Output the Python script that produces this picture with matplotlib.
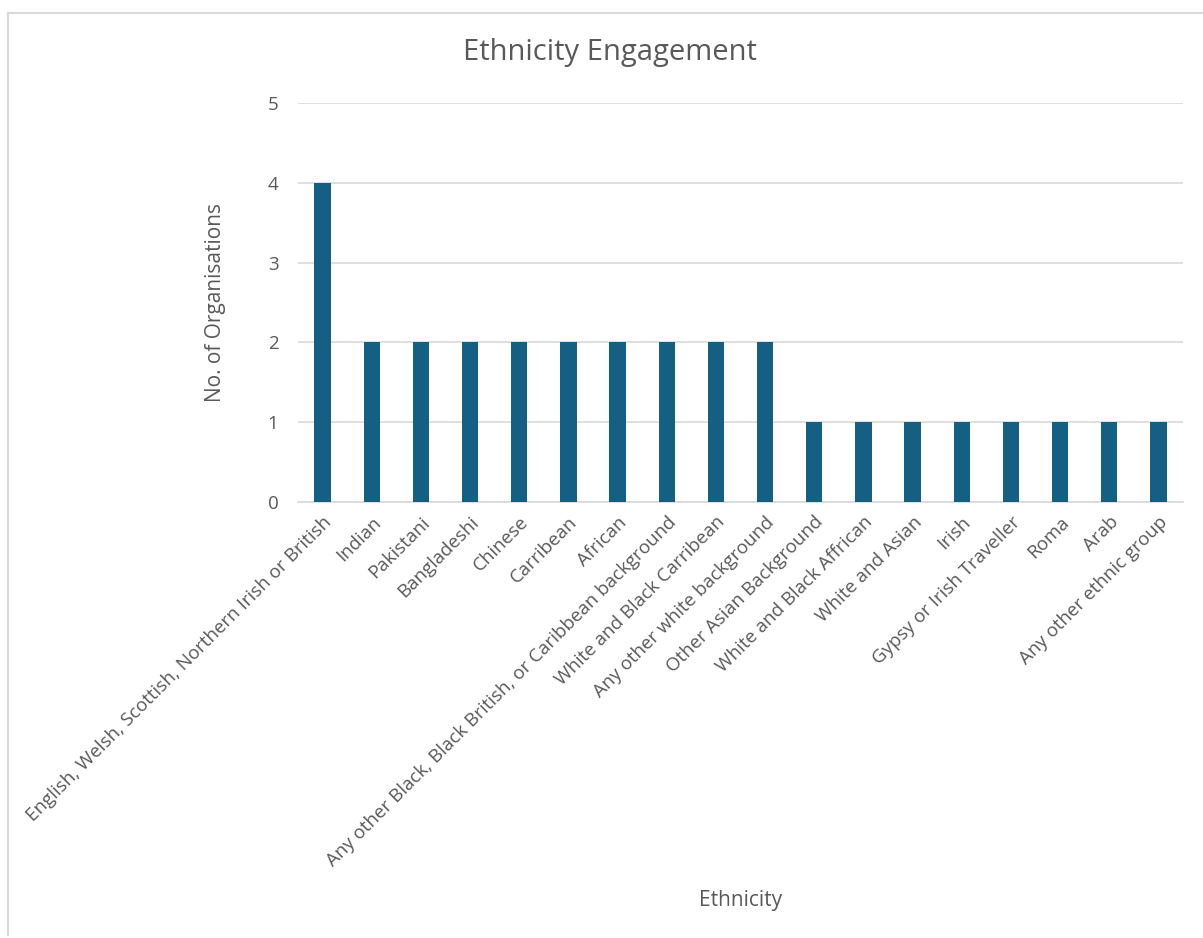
import matplotlib.pyplot as plt
import numpy as np
from matplotlib.lines import Line2D

categories = [
    "English, Welsh, Scottish, Northern Irish or British",
    "Indian",
    "Pakistani",
    "Bangladeshi",
    "Chinese",
    "Carribean",
    "African",
    "Any other Black, Black British, or Caribbean background",
    "White and Black Carribean",
    "Any other white background",
    "Other Asian Background",
    "White and Black Affrican",
    "White and Asian",
    "Irish",
    "Gypsy or Irish Traveller",
    "Roma",
    "Arab",
    "Any other ethnic group",
]
counts = [4, 2, 2, 2, 2, 2, 2, 2, 2, 2, 1, 1, 1, 1, 1, 1, 1, 1]
yticks = [0, 1, 2, 3, 4, 5]

plt.rcParams['font.family'] = ['Open Sans', 'DejaVu Sans']
txt = '#595959'

fig = plt.figure(figsize=(12.03, 9.38), dpi=100)
ax = fig.add_axes([0.2477, 0.4648, 0.7357, 0.4254])

x = np.arange(len(categories))
ax.bar(x, counts, width=0.33, color='#156082', zorder=3)
ax.set_xlim(-0.5, len(categories) - 0.5)
ax.set_ylim(0, 5)
ax.set_yticks(yticks)
ax.yaxis.grid(True, color='#d9d9d9', linewidth=1.2, zorder=0)
ax.set_xticks(x)
ax.set_xticklabels(categories, rotation=45, ha='right', rotation_mode='anchor',
                   fontsize=13.5, color=txt)
ax.tick_params(axis='y', labelsize=13.5, labelcolor=txt, length=0, pad=14)
ax.tick_params(axis='x', length=0, pad=8)
for s in ['top', 'right', 'left']:
    ax.spines[s].set_visible(False)
ax.spines['bottom'].set_color('#d9d9d9')
ax.spines['bottom'].set_linewidth(1.2)

ax.set_ylabel("No. of Organisations", fontsize=15, color=txt, labelpad=30)
fig.text(0.6156, 0.04, "Ethnicity", fontsize=15, color=txt, ha='center', va='center')
fig.text(0.507, 0.944, "Ethnicity Engagement", fontsize=21, color=txt, ha='center', va='center')

# outer chart border (left and top edges visible)
fig.add_artist(Line2D([0.0066, 0.0066], [0.003, 0.986], color='#d9d9d9', linewidth=1.5, transform=fig.transFigure))
fig.add_artist(Line2D([0.0066, 1.0], [0.986, 0.986], color='#d9d9d9', linewidth=1.5, transform=fig.transFigure))

fig.savefig("out.png", dpi=100)
